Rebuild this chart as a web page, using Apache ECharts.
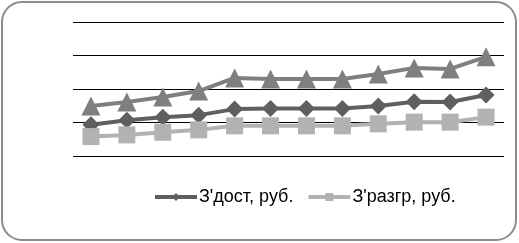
<!DOCTYPE html>
<html>
<head>
<meta charset="utf-8">
<script src="https://cdn.jsdelivr.net/npm/echarts@6/dist/echarts.min.js"></script>
<style>
html,body{margin:0;padding:0;background:#fff;}
#chart{width:519px;height:243px;}
</style>
</head>
<body>
<div id="chart"></div>
<script>
const categories = ['1','2','3','4','5','6','7','8','9','10','11','12'];
const seriesNames = ["З'дост, руб.", "З'разгр, руб.", "Ряд3"];
const dostValues = [93, 107, 116, 122, 140, 142, 142, 142, 149, 162, 161, 182];
const razgrValues = [58, 63, 71, 78, 90, 90, 90, 90, 96, 101, 101, 116];
const thirdValues = [149, 161, 176, 194, 233, 230, 230, 230, 245, 263, 260, 296];
const yTicks = [0, 100, 200, 300, 400];

const chart = echarts.init(document.getElementById('chart'), null, {renderer: 'canvas'});
const lineSeries = (name, data, color, symbol, size) => ({
  name, type: 'line', data, symbol, symbolSize: size,
  lineStyle: {color, width: 4},
  itemStyle: {color},
  animation: false
});
chart.setOption({
  animation: false,
  backgroundColor: '#fff',
  graphic: [{
    type: 'rect',
    shape: {x: 2, y: 2, width: 514, height: 238, r: 20},
    style: {fill: 'none', stroke: '#8c8c8c', lineWidth: 2},
    z: -1
  }],
  grid: {left: 73, right: 15, top: 22, bottom: 87},
  xAxis: {
    type: 'category', data: categories, boundaryGap: true,
    axisLine: {show: false}, axisTick: {show: false}, axisLabel: {show: false}
  },
  yAxis: {
    type: 'value', min: yTicks[0], max: yTicks[yTicks.length - 1], interval: 100,
    axisLine: {show: false}, axisTick: {show: false}, axisLabel: {show: false},
    splitLine: {lineStyle: {color: '#000', width: 1}}
  },
  legend: {
    data: [seriesNames[0], seriesNames[1]],
    left: 153, top: 188, padding: 0,
    itemWidth: 42, itemHeight: 10, itemGap: 13,
    lineStyle: {width: 4},
    textStyle: {fontFamily: 'Liberation Sans', fontSize: 18, color: '#000', padding: [0,0,0,-3]}
  },
  series: [
    lineSeries(seriesNames[2], thirdValues, '#7f7f7f', 'triangle', 19),
    lineSeries(seriesNames[0], dostValues, '#5f5f5f', 'diamond', 17),
    lineSeries(seriesNames[1], razgrValues, '#b2b2b2', 'rect', 17)
  ]
});
</script>
</body>
</html>
